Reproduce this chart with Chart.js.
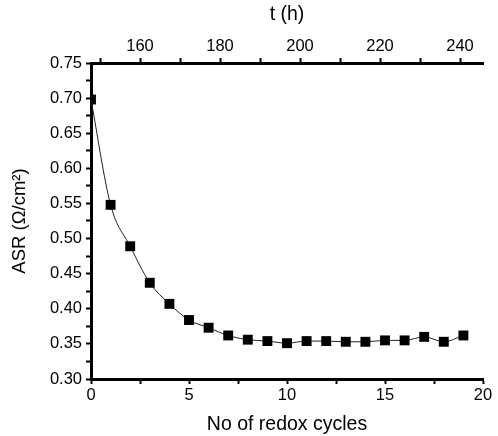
<!DOCTYPE html>
<html>
<head>
<meta charset="utf-8">
<script src="https://cdn.jsdelivr.net/npm/chart.js@4/dist/chart.umd.min.js"></script>
<style>
  html, body { margin: 0; padding: 0; background: #fff; }
</style>
</head>
<body>
<canvas id="mycanvas" width="498" height="436"></canvas>
<script>
// ASR vs redox cycles
var cycles = [0, 1, 2, 3, 4, 5, 6, 7, 8, 9, 10, 11, 12, 13, 14, 15, 16, 17, 18, 19];
var asr = [0.698, 0.548, 0.489, 0.437, 0.407, 0.384, 0.373, 0.362, 0.356, 0.354,
           0.351, 0.354, 0.354, 0.353, 0.353, 0.355, 0.355, 0.360, 0.353, 0.362];
var hourTicks = [150, 160, 170, 180, 190, 200, 210, 220, 230, 240];
var hourMin = 147.75, hourMax = 245.75;

var pts = [];
for (var i in cycles) {
	pts.push({x: cycles[i], y: asr[i]});
}

var font = "'Liberation Sans', Arial, sans-serif";

var chart = new Chart(document.getElementById('mycanvas'), {
	type: 'line',
	data: {
		datasets: [{
			label: 'ASR',
			data: pts,
			borderColor: '#222',
			borderWidth: 1,
			backgroundColor: '#000',
			pointStyle: 'rect',
			pointRadius: 7,
			pointBorderWidth: 0,
			cubicInterpolationMode: 'monotone'
		}]
	},
	options: {
		responsive: false,
		animation: false,
		layout: { padding: { left: 0, right: 15, top: 0, bottom: 0 } },
		plugins: { legend: { display: false }, tooltip: { enabled: false } },
		scales: {
			x: {
				type: 'linear',
				position: 'bottom',
				min: 0, max: 20,
				ticks: {
					stepSize: 2.5,
					color: '#000',
					font: { family: font, size: 16.5 },
					maxRotation: 0,
					padding: 2,
					callback: function(v) { return v % 5 === 0 ? v : ''; }
				},
				grid: { drawOnChartArea: false, tickLength: 5, tickWidth: 2, color: '#000' },
				border: { width: 3, color: '#000' },
				title: { display: true, text: 'No of redox cycles', color: '#000',
					font: { family: font, size: 19.5 }, padding: { top: 4, bottom: 0 } },
				afterFit: function(s) { s.height = 57; }
			},
			x2: {
				type: 'linear',
				position: 'top',
				min: hourMin, max: hourMax,
				afterBuildTicks: function(s) {
					s.ticks = hourTicks.map(function(v) { return {value: v}; });
				},
				ticks: {
					color: '#000',
					font: { family: font, size: 16.5 },
					maxRotation: 0,
					padding: 2,
					autoSkip: false,
					callback: function(v) { return v % 20 === 0 ? v : ''; }
				},
				grid: { drawOnChartArea: false, tickLength: 5, tickWidth: 2, color: '#000' },
				border: { width: 3, color: '#000' },
				title: { display: true, text: 't (h)', color: '#000',
					font: { family: font, size: 19.5 }, padding: { top: 3, bottom: 4 } },
				afterFit: function(s) { s.height = 63; }
			},
			y: {
				type: 'linear',
				min: 0.30, max: 0.75,
				ticks: {
					stepSize: 0.025,
					color: '#000',
					font: { family: font, size: 16.5 },
					padding: 4,
					autoSkip: false,
					callback: function(v) {
						return Math.round(v * 1000) % 50 === 0 ? v.toFixed(2) : '';
					}
				},
				grid: { drawOnChartArea: false, tickLength: 5, tickWidth: 2, color: '#000' },
				border: { width: 3, color: '#000' },
				title: { display: true, text: 'ASR (\u03A9/cm\u00B2)', color: '#000',
					font: { family: font, size: 18.5 }, padding: { top: 9, bottom: 4 } },
				afterFit: function(s) { s.width = 91; }
			}
		}
	}
});
</script>
</body>
</html>
